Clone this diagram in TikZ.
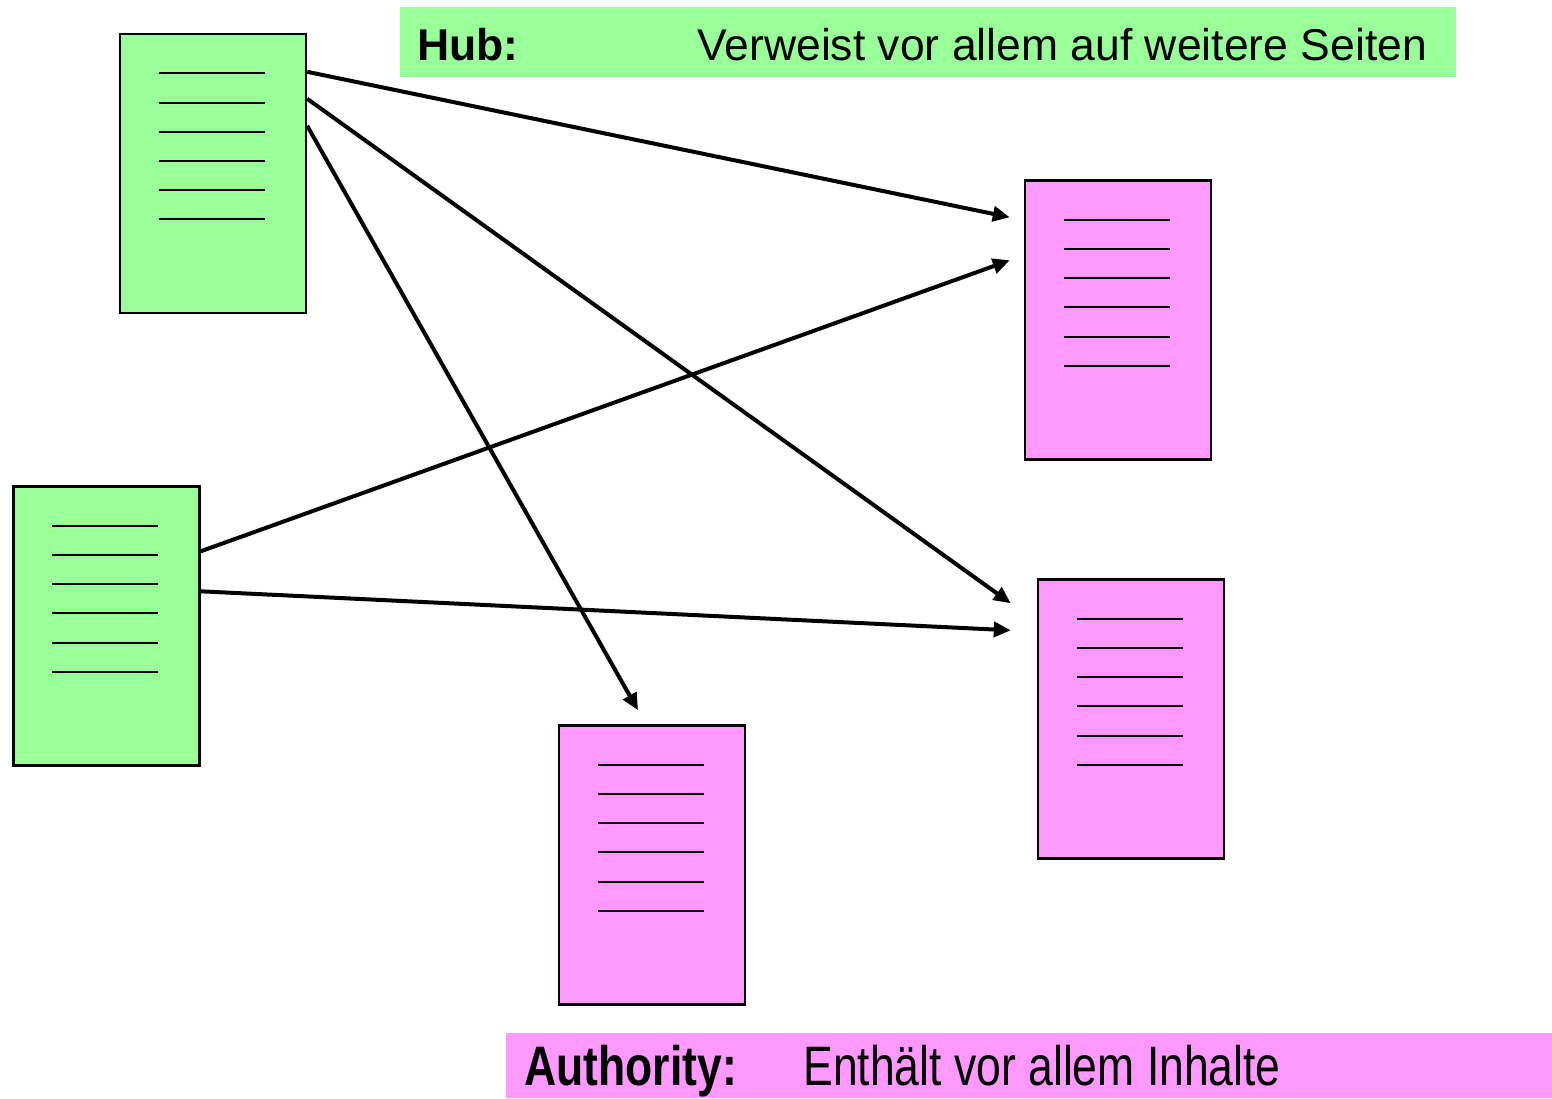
\documentclass[tikz,border=0pt]{standalone}
\usepackage{fontspec}
\setmainfont{Liberation Sans}
\usepackage{graphicx}
\usetikzlibrary{arrows.meta,calc}
\definecolor{hubgreen}{HTML}{99FF99}
\definecolor{authpink}{HTML}{FF99FF}
\tikzset{
  doc/.style={draw=black, line width=1.2pt, minimum width=93pt, minimum height=139.5pt, inner sep=0pt},
  hubdoc/.style={doc, fill=hubgreen},
  authdoc/.style={doc, fill=authpink},
  textline/.style={line width=1pt},
  arr/.style={line width=2pt, -{Triangle[length=8.5pt,width=7.5pt]}},
  lbl/.style={inner sep=0pt, anchor=base west, font=\fontsize{22.25pt}{26pt}\selectfont},
  bandbox/.style={inner sep=0pt, draw=none}
}
\newcommand{\doclines}[1]{%
  \foreach \k in {0,...,5}{\draw[textline] ($(#1.north west)+(40,{40.5+29.2*\k})$) -- ++(106,0);}}
\begin{document}
\begin{tikzpicture}[x=0.5pt,y=-0.5pt]
\useasboundingbox (0,0) rectangle (1552,1098);
% label bands
\node[bandbox, fill=hubgreen, minimum width=528pt, minimum height=35pt] (hubband) at (928,42) {};
\node[bandbox, fill=authpink, minimum width=523pt, minimum height=32.5pt] (authband) at (1029,1065.5) {};
\node[lbl] (hubkey) at (417,60) {\bfseries Hub:};
\node[lbl] (hubtxt) at (697,60) {Verweist vor allem auf weitere Seiten};
\node[lbl] (authkey) at (524,1085) {\scalebox{1}[1.25]{\bfseries Authority:}};
\node[lbl] (authtxt) at (803,1085) {\scalebox{1}[1.25]{Enthält vor allem Inhalte}};
% documents
\node[hubdoc] (h1) at (213,173.5) {};
\node[hubdoc] (h2) at (106.5,626) {};
\node[authdoc] (a1) at (1118,320) {};
\node[authdoc] (a2) at (1131,719) {};
\node[authdoc] (a3) at (652,865) {};
\doclines{h1}\doclines{h2}\doclines{a1}\doclines{a2}\doclines{a3}
% links
\draw[arr] ($(h1.north east)+(0,39)$) -- ($(a1.north west)+(-14,38)$);
\draw[arr] ($(h1.north east)+(0,66)$) -- ($(a2.north west)+(-26,25)$);
\draw[arr] ($(h1.north east)+(0,93)$) -- ($(a3.north)+(-14,-14)$);
\draw[arr] ($(h2.north east)+(0,66)$) -- ($(a1.north west)+(-14,81)$);
\draw[arr] ($(h2.north east)+(0,106)$) -- ($(a2.north west)+(-26,52)$);
\end{tikzpicture}
\end{document}
